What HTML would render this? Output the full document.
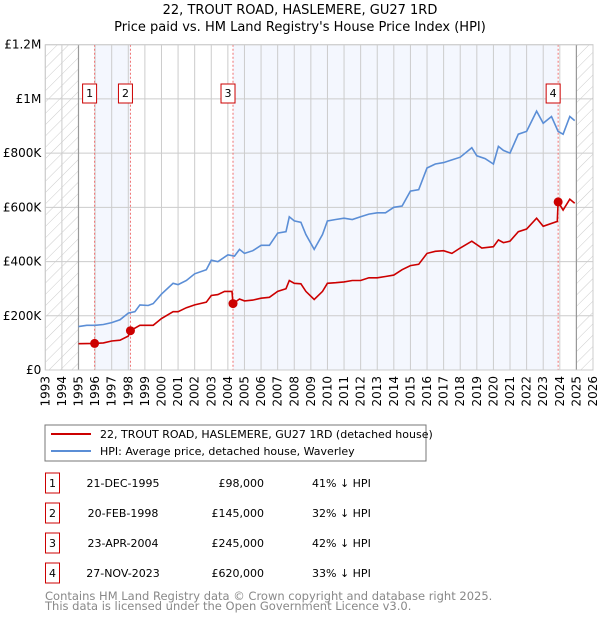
<!DOCTYPE html>
<html><head><meta charset="utf-8"><style>
body{margin:0;background:#fff;width:600px;height:620px;overflow:hidden;font-family:"DejaVu Sans","Liberation Sans",sans-serif}
svg text{font-family:"DejaVu Sans","Liberation Sans",sans-serif}
</style></head><body>
<svg id="chart" width="600" height="620" xmlns="http://www.w3.org/2000/svg">
<defs><pattern id="hatch" width="8" height="8" patternUnits="userSpaceOnUse" patternTransform="rotate(45)"><line x1="0" y1="0" x2="0" y2="8" stroke="#ccc" stroke-width="1"/></pattern></defs>
<text x="300" y="14" text-anchor="middle" font-size="13">22, TROUT ROAD, HASLEMERE, GU27 1RD</text>
<text x="300" y="31" text-anchor="middle" font-size="13">Price paid vs. HM Land Registry's House Price Index (HPI)</text>
<g id="plot"></g>
<g>
<rect x="45" y="425" width="381" height="36" fill="#fff" stroke="#777"/>
<line x1="51" y1="434" x2="91" y2="434" stroke="#cc0000" stroke-width="2"/>
<text x="100" y="438" font-size="11">22, TROUT ROAD, HASLEMERE, GU27 1RD (detached house)</text>
<line x1="51" y1="451" x2="91" y2="451" stroke="#5b8ed6" stroke-width="2"/>
<text x="100" y="455" font-size="11">HPI: Average price, detached house, Waverley</text>
</g>
<g id="table"></g>
<text x="45" y="600" font-size="11.5" fill="#888">Contains HM Land Registry data © Crown copyright and database right 2025.</text>
<text x="45" y="610" font-size="11.5" fill="#888">This data is licensed under the Open Government Licence v3.0.</text>
</svg>
<script>
const hpiYears=[1995,1995.5,1996,1996.5,1997,1997.5,1998,1998.4,1998.7,1999.2,1999.5,2000,2000.7,2001,2001.5,2002,2002.7,2003,2003.4,2004,2004.4,2004.7,2005,2005.5,2006,2006.5,2007,2007.5,2007.7,2008,2008.4,2008.7,2009.2,2009.7,2010,2010.5,2011,2011.5,2012,2012.5,2013,2013.5,2014,2014.5,2015,2015.5,2016,2016.5,2017,2017.5,2018,2018.7,2019,2019.5,2020,2020.3,2020.6,2021,2021.5,2022,2022.6,2023,2023.5,2023.9,2024.2,2024.6,2024.9];
const hpiValues=[160,165,165,168,175,185,210,215,240,238,245,280,320,315,330,355,370,405,400,425,420,445,430,440,460,460,505,510,565,550,545,500,445,500,550,555,560,555,565,575,580,580,600,605,660,665,745,760,765,775,785,820,790,780,760,825,810,800,870,880,955,910,935,880,870,935,920];
const priceYears=[1995,1995.97,1996.5,1997,1997.5,1998.0,1998.13,1998.7,1999.5,2000,2000.7,2001,2001.5,2002,2002.7,2003,2003.4,2003.8,2004.25,2004.31,2004.7,2005,2005.5,2006,2006.5,2007,2007.5,2007.7,2008,2008.4,2008.7,2009.2,2009.7,2010,2010.5,2011,2011.5,2012,2012.5,2013,2013.5,2014,2014.5,2015,2015.5,2016,2016.5,2017,2017.5,2018,2018.7,2019.3,2020,2020.3,2020.6,2021,2021.5,2022,2022.6,2023,2023.85,2023.9,2024.2,2024.6,2024.9];
const priceValues=[97,98,100,107,110,125,145,165,165,190,215,215,230,240,250,275,278,290,290,245,262,255,258,265,268,290,300,330,320,318,290,260,290,320,322,325,330,330,340,340,345,350,370,385,390,430,438,440,430,450,475,450,455,480,470,475,510,520,560,530,548,620,590,630,615];
const saleYears=[1995.97,1998.13,2004.31,2023.9];
const saleValues=[98,145,245,620];
const saleLabels=["1","2","3","4"];
const saleDates=["21-DEC-1995","20-FEB-1998","23-APR-2004","27-NOV-2023"];
const salePrices=["£98,000","£145,000","£245,000","£620,000"];
const saleDiffs=["41% ↓ HPI","32% ↓ HPI","42% ↓ HPI","33% ↓ HPI"];
const yTicks=[0,200,400,600,800,1000,1200];
const yTickLabels=["£0","£200K","£400K","£600K","£800K","£1M","£1.2M"];
const xStart=1993,xEnd=2026;

const L=45.3,R=593,T=44.7,B=370;
const X=y=>L+(y-xStart)/(xEnd-xStart)*(R-L);
const Y=v=>B-v/1200*(B-T);
const NS="http://www.w3.org/2000/svg";
const plot=document.getElementById('plot');
function mk(tag,attrs,parent){const e=document.createElementNS(NS,tag);for(const k in attrs)e.setAttribute(k,attrs[k]);(parent||plot).appendChild(e);return e;}
let s=mk('rect',{x:X(saleYears[0]),y:T,width:X(saleYears[1])-X(saleYears[0]),height:B-T,fill:'#f4f7fe'});


s=mk('rect',{x:X(saleYears[2]),y:T,width:X(saleYears[3])-X(saleYears[2]),height:B-T,fill:'#f4f7fe'});


s=mk('rect',{x:L,y:T,width:X(1995)-L,height:B-T,fill:'url(#hatch)'});


s=mk('rect',{x:X(2025),y:T,width:R-X(2025),height:B-T,fill:'url(#hatch)'});


for(let yr=xStart;yr<=xEnd;yr++){
 const g=mk('line',{x1:X(yr),x2:X(yr),y1:T,y2:B,stroke:'#ccc','stroke-width':1});
 
 
 const t=mk('text',{x:0,y:0,'font-size':12,'text-anchor':'end',transform:`translate(${X(yr)+4},${B+6}) rotate(-90)`});
 t.textContent=yr;
 
 
}
yTicks.forEach((v,i)=>{
 const g=mk('line',{x1:L,x2:R,y1:Y(v),y2:Y(v),stroke:'#ccc','stroke-width':1});
 
 
 const t=mk('text',{x:L-4,y:Y(v)+4,'font-size':12,'text-anchor':'end'});
 t.textContent=yTickLabels[i];
 
 
});
[1995,2025].forEach(yr=>{const l=mk('line',{x1:X(yr),x2:X(yr),y1:T,y2:B,stroke:'#999','stroke-width':1.2});
 
 });
saleYears.forEach((yr,i)=>{
 const l=mk('line',{x1:X(yr),x2:X(yr),y1:T,y2:B,stroke:'#f07070','stroke-width':1,'stroke-dasharray':'2,2'});
 
 
});
function path(xs,vs){return xs.map((x,i)=>(i?'L':'M')+X(x).toFixed(1)+','+Y(vs[i]).toFixed(1)).join('');}
let p=mk('path',{d:path(hpiYears,hpiValues),fill:'none',stroke:'#5b8ed6','stroke-width':1.6});


p=mk('path',{d:path(priceYears,priceValues),fill:'none',stroke:'#cc0000','stroke-width':1.6});


saleYears.forEach((yr,i)=>{
 const c=mk('circle',{cx:X(yr),cy:Y(saleValues[i]),r:4.5,fill:'#cc0000'});
 
 
 const bx=mk('rect',{x:X(yr)-12,y:84,width:14,height:19,fill:'#fff',stroke:'#cc0000','stroke-width':1});
 
 
 const t=mk('text',{x:X(yr)-5,y:97,'font-size':11,'text-anchor':'middle'});
 t.textContent=saleLabels[i];
 
 
});
const plotBorder=mk('rect',{x:L,y:T,width:R-L,height:B-T,fill:'none',stroke:'#ccc'});


const tb=document.getElementById('table');
saleLabels.forEach((lab,i)=>{
 const cy=483+i*30;
 const g=mk('g',{},tb);
 
 
 mk('rect',{x:45.5,y:cy-10,width:14,height:20,fill:'#fff',stroke:'#cc0000'},g);
 let t=mk('text',{x:52.5,y:cy+4,'font-size':11,'text-anchor':'middle'},g);t.textContent=lab;
 t=mk('text',{x:123,y:cy+4,'font-size':11,'text-anchor':'middle'},g);t.textContent=saleDates[i];
 t=mk('text',{x:264,y:cy+4,'font-size':11,'text-anchor':'end'},g);t.textContent=salePrices[i];
 t=mk('text',{x:312,y:cy+4,'font-size':11},g);t.textContent=saleDiffs[i];
});
</script>
</body></html>
